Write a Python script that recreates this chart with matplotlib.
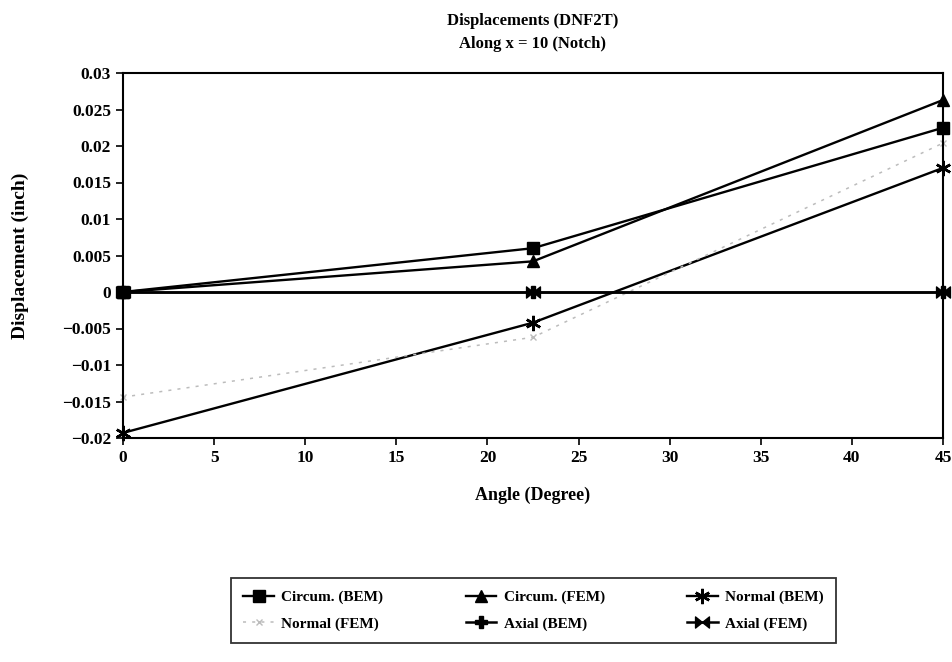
import matplotlib
matplotlib.use('Agg')
import matplotlib.pyplot as plt
from matplotlib.path import Path

# Data
angles = [0, 22.5, 45]
circum_bem = [0.0, 0.0060, 0.0225]
circum_fem = [0.0, 0.0042, 0.0263]
normal_bem = [-0.0193, -0.0042, 0.0170]
normal_fem = [-0.0144, -0.0062, 0.0204]
axial_bem = [0.0, 0.0, 0.0]
axial_fem = [0.0, 0.0, 0.0]

x_ticks = [0, 5, 10, 15, 20, 25, 30, 35, 40, 45]
y_ticks = [-0.02, -0.015, -0.01, -0.005, 0, 0.005, 0.01, 0.015, 0.02, 0.025, 0.03]
y_tick_labels = ['\u22120.02', '\u22120.015', '\u22120.01', '\u22120.005', '0',
                 '0.005', '0.01', '0.015', '0.02', '0.025', '0.03']

plt.rcParams['font.family'] = ['Liberation Serif', 'DejaVu Serif']
plt.rcParams['font.weight'] = 'bold'
plt.rcParams['axes.titleweight'] = 'bold'
plt.rcParams['axes.labelweight'] = 'bold'

# bow-tie marker for Axial (FEM)
bowtie = Path([(-1, -0.8), (0, 0), (-1, 0.8), (-1, -0.8),
               (1, -0.8), (0, 0), (1, 0.8), (1, -0.8)],
              [Path.MOVETO, Path.LINETO, Path.LINETO, Path.CLOSEPOLY,
               Path.MOVETO, Path.LINETO, Path.LINETO, Path.CLOSEPOLY])

fig = plt.figure(figsize=(9.53, 6.62), dpi=100)
ax = fig.add_axes([123 / 953, 1 - 438 / 662, (943 - 123) / 953, (438 - 73) / 662])

kw = dict(clip_on=False, color='black')
h1, = ax.plot(angles, circum_bem, lw=1.7, marker='s', ms=8, label='Circum. (BEM)', **kw)
h2, = ax.plot(angles, circum_fem, lw=1.7, marker='^', ms=9, label='Circum. (FEM)', **kw)
h3, = ax.plot(angles, normal_bem, lw=1.7, marker=(6, 2, 0), ms=11, mew=1.8,
              label='Normal (BEM)', **kw)
h4, = ax.plot(angles, normal_fem, color='#bcbcbc', lw=1.1, ls=(0, (2, 4)), marker='x', ms=4,
              clip_on=False, label='Normal (FEM)')
h5, = ax.plot(angles, axial_bem, lw=1.8, marker='P', ms=8, label='Axial (BEM)', **kw)
h6, = ax.plot(angles, axial_fem, lw=1.8, marker=bowtie, ms=10, label='Axial (FEM)', **kw)

ax.set_xlim(0, 45)
ax.set_ylim(-0.02, 0.03)
ax.set_xticks(x_ticks)
ax.set_yticks(y_ticks)
ax.set_yticklabels(y_tick_labels)
ax.tick_params(direction='out', length=5, width=1.2, labelsize=12.5)
for s in ax.spines.values():
    s.set_linewidth(1.5)

ax.set_title('Displacements (DNF2T)\nAlong x = 10 (Notch)', fontsize=12, pad=18, linespacing=1.6)
ax.set_xlabel('Angle (Degree)', fontsize=13, labelpad=15)
ax.set_ylabel('Displacement (inch)', fontsize=14, labelpad=24)

handles = [h1, h4, h2, h5, h3, h6]
leg = fig.legend(handles, [h.get_label() for h in handles], ncol=3,
                 loc='upper left', mode='expand',
                 bbox_to_anchor=(231 / 953, 1 - 645 / 662, (836 - 231) / 953, (645 - 578) / 662),
                 fontsize=11, frameon=True, fancybox=False, edgecolor='black',
                 handlelength=2.0, handletextpad=0.5, borderpad=0.8,
                 borderaxespad=0, columnspacing=1.0, labelspacing=0.85)
leg.get_frame().set_linewidth(1.3)

fig.savefig('out.png', dpi=100)
